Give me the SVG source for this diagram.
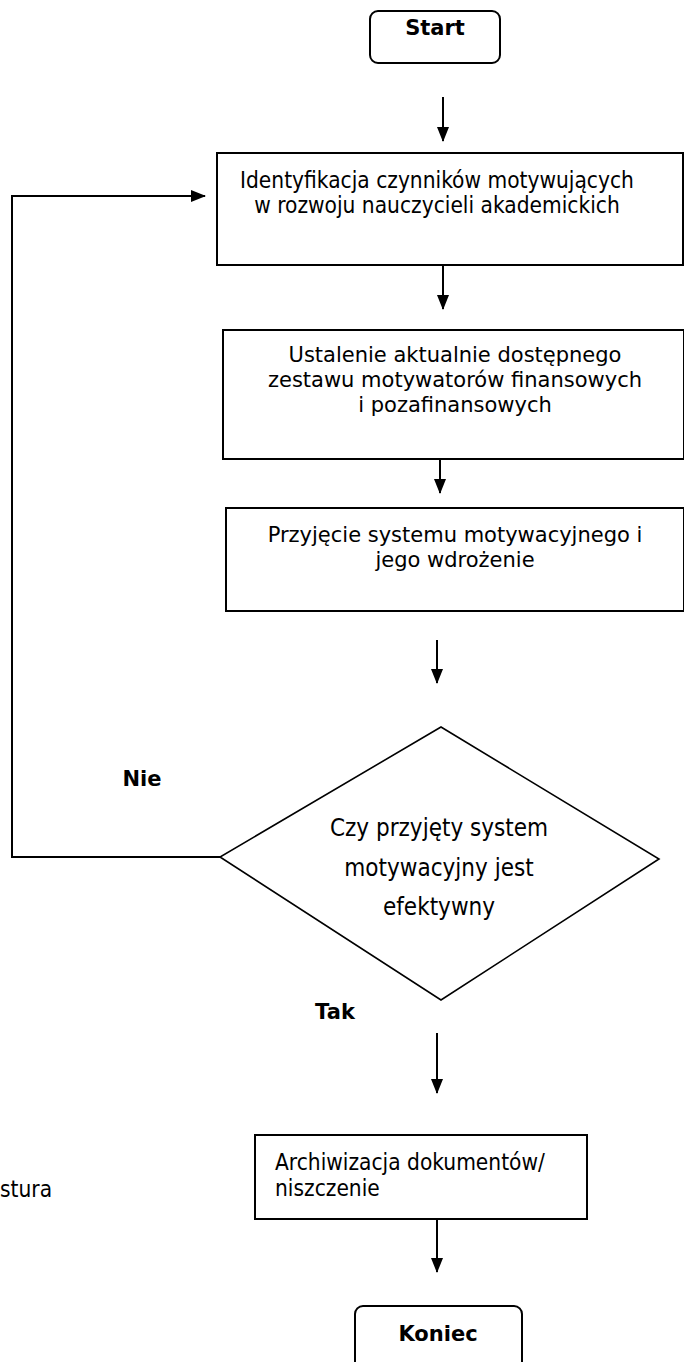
<svg xmlns="http://www.w3.org/2000/svg" width="684" height="1362" viewBox="0 0 684 1362">
<style>
.box{fill:#fff;stroke:#000;stroke-width:2}
.dia{fill:#fff;stroke:#000;stroke-width:1.6}
.c{fill:none;stroke:#000;stroke-width:2}
.t{font-family:"DejaVu Sans",Verdana,sans-serif;font-size:21px;fill:#000}
.tc{font-family:"DejaVu Sans Condensed","DejaVu Sans",sans-serif;font-size:22.5px;fill:#000}
.td{font-family:"DejaVu Sans Condensed","DejaVu Sans",sans-serif;font-size:24px;fill:#000}
.b{font-family:"DejaVu Sans",Verdana,sans-serif;font-size:21px;font-weight:bold;fill:#000}
</style>
<defs>
<marker id="ah" markerWidth="15" markerHeight="12" refX="14" refY="6" orient="auto" markerUnits="userSpaceOnUse">
<path d="M0,0 L15,6 L0,12 Z" fill="#000"/>
</marker>
</defs>
<rect width="684" height="1362" fill="#fff"/>
<g id="connectors">
<line class="c" x1="443" y1="97" x2="443" y2="141" marker-end="url(#ah)"/>
<line class="c" x1="443" y1="265" x2="443" y2="309" marker-end="url(#ah)"/>
<line class="c" x1="440" y1="459" x2="440" y2="493" marker-end="url(#ah)"/>
<line class="c" x1="437" y1="640" x2="437" y2="683" marker-end="url(#ah)"/>
<polyline class="c" points="220,857 12,857 12,196 205,196" marker-end="url(#ah)"/>
<line class="c" x1="437" y1="1033" x2="437" y2="1093" marker-end="url(#ah)"/>
<line class="c" x1="437" y1="1219" x2="437" y2="1272" marker-end="url(#ah)"/>
</g>
<g id="start">
<rect class="box" x="370" y="11" width="130" height="52" rx="8"/>
<text class="b" x="435" y="35" text-anchor="middle">Start</text>
</g>
<g id="identyfikacja">
<rect class="box" x="217" y="153" width="466" height="112"/>
<text class="tc" x="437" y="188" text-anchor="middle">Identyfikacja czynników motywujących</text>
<text class="tc" x="437" y="213" text-anchor="middle">w rozwoju nauczycieli akademickich</text>
</g>
<g id="ustalenie">
<rect class="box" x="223" y="330" width="461" height="129"/>
<text class="t" x="455" y="362" text-anchor="middle">Ustalenie aktualnie dostępnego</text>
<text class="t" x="455" y="387" text-anchor="middle">zestawu motywatorów finansowych</text>
<text class="t" x="455" y="412" text-anchor="middle">i pozafinansowych</text>
</g>
<g id="przyjecie">
<rect class="box" x="226" y="508" width="458" height="103"/>
<text class="t" x="455" y="542" text-anchor="middle">Przyjęcie systemu motywacyjnego i</text>
<text class="t" x="455" y="567" text-anchor="middle">jego wdrożenie</text>
</g>
<g id="decyzja">
<polygon class="dia" points="441,727 659,859 441,1000 220,857"/>
<text class="td" x="439" y="836" text-anchor="middle">Czy przyjęty system</text>
<text class="td" x="439" y="876" text-anchor="middle">motywacyjny jest</text>
<text class="td" x="439" y="915" text-anchor="middle">efektywny</text>
</g>
<g id="label-nie">
<text class="b" x="142" y="786" text-anchor="middle">Nie</text>
</g>
<g id="label-tak">
<text class="b" x="335" y="1019" text-anchor="middle">Tak</text>
</g>
<g id="archiwizacja">
<rect class="box" x="255" y="1135" width="332" height="84"/>
<text class="tc" x="275" y="1170">Archiwizacja dokumentów/</text>
<text class="tc" x="275" y="1196">niszczenie</text>
</g>
<g id="fragment">
<text class="tc" x="0" y="1197" font-size="19">stura</text>
</g>
<g id="koniec">
<rect class="box" x="355" y="1306" width="167" height="70" rx="8"/>
<text class="b" x="438" y="1341" text-anchor="middle">Koniec</text>
</g>
</svg>
